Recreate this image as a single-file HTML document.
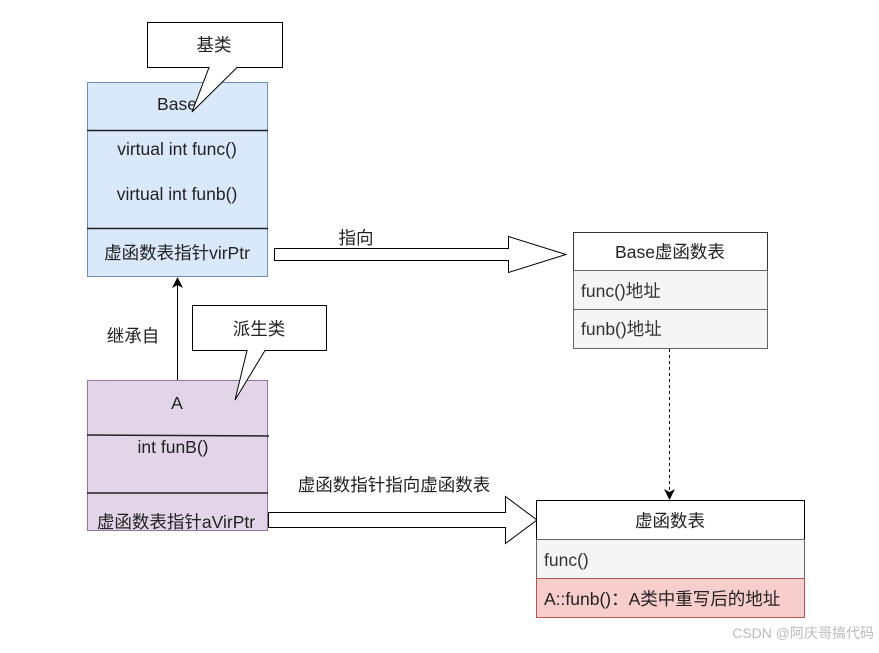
<!DOCTYPE html>
<html><head><meta charset="utf-8"><style>
body{margin:0;background:#fff}
svg text{font-family:"Liberation Sans","Noto Sans CJK SC",sans-serif;font-size:17.5px;fill:#222}
</style></head><body>
<svg width="879" height="648" viewBox="0 0 879 648" xmlns="http://www.w3.org/2000/svg">
<defs><marker id="ah" markerWidth="11" markerHeight="11" refX="10" refY="5.5" orient="auto" markerUnits="userSpaceOnUse"><path d="M0,0 L11,5.5 L0,11 L3,5.5 z" fill="#000"/></marker></defs>
<!-- Base -->
<rect x="87.5" y="82.5" width="180" height="194" fill="#dae8fc" stroke="#6c8ebf"/>
<line x1="87" y1="130.5" x2="268" y2="130.5" stroke="#222" stroke-width="1.5"/>
<line x1="87" y1="228.5" x2="268" y2="228.5" stroke="#222" stroke-width="1.5"/>
<text x="177" y="110" text-anchor="middle">Base</text>
<text x="177" y="155" text-anchor="middle">virtual int func()</text>
<text x="177" y="200" text-anchor="middle">virtual int funb()</text>
<text x="177" y="259" text-anchor="middle">虚函数表指针virPtr</text>
<!-- callout 基类 -->
<path d="M147.5,22.5 H282.5 V67.5 H237 L192,112 L209,67.5 H147.5 Z" fill="#fff" stroke="#000"/>
<text x="214" y="51" text-anchor="middle">基类</text>
<!-- block arrow 1 -->
<path d="M274.5,248.5 H508.5 V236.5 L566,254.5 L508.5,272.5 V260.5 H274.5 Z" fill="#fff" stroke="#000"/>
<text x="356" y="244" text-anchor="middle">指向</text>
<!-- Base vtable -->
<rect x="573.5" y="232.5" width="194" height="38" fill="#fff" stroke="#333"/>
<rect x="573.5" y="270.5" width="194" height="39" fill="#f5f5f5" stroke="#666"/>
<rect x="573.5" y="309.5" width="194" height="39" fill="#f5f5f5" stroke="#666"/>
<text x="670" y="258" text-anchor="middle">Base虚函数表</text>
<text x="581" y="297" style="fill:#333">func()地址</text>
<text x="581" y="335" style="fill:#333">funb()地址</text>
<line x1="669.5" y1="349" x2="669.5" y2="499" stroke="#000" stroke-dasharray="3,3" marker-end="url(#ah)"/>
<!-- inherit arrow -->
<line x1="177.5" y1="380" x2="177.5" y2="278" stroke="#000" marker-end="url(#ah)"/>
<text x="133" y="342" text-anchor="middle">继承自</text>
<!-- A -->
<rect x="87.5" y="380.5" width="180" height="150" fill="#e1d5e7" stroke="#9673a6"/>
<line x1="87" y1="435" x2="269" y2="436" stroke="#222" stroke-width="1.5"/>
<line x1="87" y1="493" x2="268" y2="493" stroke="#222" stroke-width="1.5"/>
<text x="177" y="409" text-anchor="middle">A</text>
<text x="173" y="453" text-anchor="middle">int funB()</text>
<text x="176" y="528" text-anchor="middle">虚函数表指针aVirPtr</text>
<!-- callout 派生类 -->
<path d="M192.5,305.5 H326.5 V350.5 H265 L235,400 L247,350.5 H192.5 Z" fill="#fff" stroke="#000"/>
<text x="259" y="335" text-anchor="middle">派生类</text>
<!-- block arrow 2 -->
<path d="M268.5,512.5 H505.5 V496.5 L537,520 L505.5,543.5 V527.5 H268.5 Z" fill="#fff" stroke="#000"/>
<text x="394" y="491" text-anchor="middle">虚函数指针指向虚函数表</text>
<!-- vtable -->
<rect x="536.5" y="500.5" width="268" height="39" fill="#fff" stroke="#000"/>
<rect x="536.5" y="539.5" width="268" height="39" fill="#f5f5f5" stroke="#666"/>
<rect x="536.5" y="578.5" width="268" height="39" fill="#f8cecc" stroke="#b85450"/>
<text x="670" y="527" text-anchor="middle">虚函数表</text>
<text x="544" y="566" style="fill:#333">func()</text>
<text x="544" y="605">A::funb()：A类中重写后的地址</text>
<text x="874" y="638" text-anchor="end" style="font-size:14px;fill:#bbb">CSDN @阿庆哥搞代码</text>
</svg>
</body></html>
